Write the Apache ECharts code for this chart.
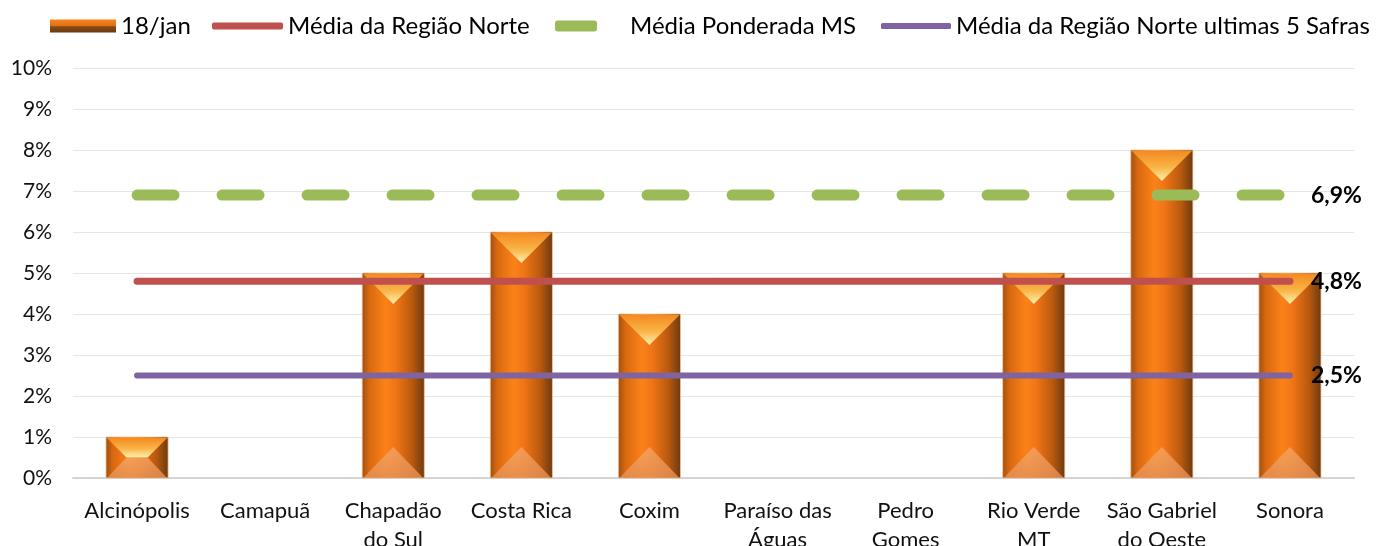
<!DOCTYPE html>
<html>
<head>
<meta charset="utf-8">
<script src="https://cdn.jsdelivr.net/npm/echarts@6/dist/echarts.min.js"></script>
<style>
  html, body { margin: 0; padding: 0; background: #fff; }
  #chart { width: 1381px; height: 546px; }
</style>
</head>
<body>
<div id="chart"></div>
<script>
// Municípios (rótulos do eixo X)
const categories = [
  'Alcinópolis', 'Camapuã', 'Chapadão\ndo Sul', 'Costa Rica', 'Coxim',
  'Paraíso das\nÁguas', 'Pedro\nGomes', 'Rio Verde\nMT', 'São Gabriel\ndo Oeste', 'Sonora'
];
// Percentual em 18/jan por município
const barValues = [1, 0, 5, 6, 4, 0, 0, 5, 8, 5];
// Médias de referência (%)
const mediaNorte = [4.8, 4.8, 4.8, 4.8, 4.8, 4.8, 4.8, 4.8, 4.8, 4.8];
const mediaPonderadaMS = [6.9, 6.9, 6.9, 6.9, 6.9, 6.9, 6.9, 6.9, 6.9, 6.9];
const mediaNorte5Safras = [2.5, 2.5, 2.5, 2.5, 2.5, 2.5, 2.5, 2.5, 2.5, 2.5];
// Eixo Y
const yMin = 0, yMax = 10, yStep = 1;

const FONT = 'Lato';
const G = echarts.graphic;

const fmtPct = v => String(v).replace('.', ',') + '%';

// Barra com chanfro: corpo com degradê lateral, triângulo superior claro e inferior pêssego
function renderBevelBar(params, api) {
  const v = api.value(1);
  if (!v) return null;
  const top = api.coord([api.value(0), v]);
  const base = api.coord([api.value(0), 0]);
  const w = api.size([1, 0])[0] * 0.485;
  const x0 = top[0] - w / 2, x1 = top[0] + w / 2;
  const yT = top[1], yB = base[1];
  const h = yB - yT;
  const d = Math.min(w / 2, h / 2);
  return {
    type: 'group',
    children: [
      {
        type: 'rect',
        shape: { x: x0, y: yT, width: w, height: h },
        style: {
          fill: new G.LinearGradient(0, 0, 1, 0, [
            { offset: 0, color: '#9a4f12' },
            { offset: 0.12, color: '#d9690f' },
            { offset: 0.38, color: '#fb8219' },
            { offset: 0.55, color: '#ee7416' },
            { offset: 0.8, color: '#b9590e' },
            { offset: 1, color: '#6a3a12' }
          ]),
          stroke: 'rgba(248,196,150,0.8)',
          lineWidth: 1
        }
      },
      {
        type: 'polygon',
        shape: { points: [[x0 + 1, yT + 1], [x1 - 1, yT + 1], [x1 - d, yT + d], [x0 + d, yT + d]] },
        style: {
          fill: new G.LinearGradient(0, 0, 0, 1, [
            { offset: 0, color: '#f48a20' },
            { offset: 0.55, color: '#f9b548' },
            { offset: 1, color: '#fff2b0' }
          ])
        }
      },
      {
        type: 'polygon',
        shape: { points: [[x0 + 1, yB], [x1 - 1, yB], [x1 - d, yB - d], [x0 + d, yB - d]] },
        style: {
          fill: new G.LinearGradient(0, 0, 0, 1, [
            { offset: 0, color: 'rgba(244,170,110,0.7)' },
            { offset: 1, color: 'rgba(230,145,85,0.8)' }
          ])
        }
      }
    ]
  };
}

function refLine(name, data, color, width, dashed) {
  return {
    name: name,
    type: 'line',
    data: data,
    symbol: 'none',
    z: 5,
    lineStyle: {
      color: color,
      width: width,
      cap: 'round',
      type: dashed ? [37, 48] : 'solid'
    },
    itemStyle: { color: color },
    emphasis: { disabled: true },
    endLabel: {
      show: true,
      distance: 21,
      formatter: p => fmtPct(p.value),
      fontFamily: FONT,
      fontWeight: 'bold',
      fontSize: 23,
      color: '#000'
    }
  };
}

const legendText = { fontFamily: FONT, fontSize: 24, color: '#000' };

const option = {
  animation: false,
  backgroundColor: '#fff',
  grid: { left: 73, right: 27, top: 68, bottom: 68, containLabel: false, outerBoundsMode: 'none' },
  legend: [
    {
      left: 45, top: 9, itemWidth: 66, itemHeight: 13, textStyle: legendText,
      data: [{
        name: '18/jan', icon: 'rect',
        itemStyle: {
          color: new G.LinearGradient(0, 0, 0, 1, [
            { offset: 0, color: '#f7841c' },
            { offset: 0.5, color: '#e06f14' },
            { offset: 0.55, color: '#8a4a14' },
            { offset: 1, color: '#6a3a12' }
          ])
        }
      }]
    },
    {
      left: 207, top: 9, itemWidth: 71, itemHeight: 7, textStyle: legendText,
      data: [{ name: 'Média da Região Norte', icon: 'roundRect' }]
    },
    {
      left: 550, top: 9, itemWidth: 42, itemHeight: 11,
      textStyle: Object.assign({ padding: [0, 0, 0, 28] }, legendText),
      data: [{ name: 'Média Ponderada MS', icon: 'roundRect' }]
    },
    {
      left: 876, top: 9, itemWidth: 70, itemHeight: 6, textStyle: legendText,
      data: [{ name: 'Média da Região Norte ultimas 5 Safras', icon: 'roundRect' }]
    }
  ],
  xAxis: {
    type: 'category',
    data: categories,
    boundaryGap: true,
    axisLine: { show: true, lineStyle: { color: '#d4d4d4', width: 2 } },
    axisTick: { show: false },
    axisLabel: {
      interval: 0,
      margin: 18,
      fontFamily: FONT,
      fontSize: 22,
      color: '#111',
      lineHeight: 29
    }
  },
  yAxis: {
    type: 'value',
    min: yMin,
    max: yMax,
    interval: yStep,
    axisLine: { show: false },
    axisTick: { show: false },
    splitLine: { lineStyle: { color: '#e6e6e6', width: 1 } },
    axisLabel: {
      margin: 21,
      fontFamily: FONT,
      fontSize: 21,
      color: '#111',
      formatter: v => v + '%'
    }
  },
  series: [
    {
      name: '18/jan',
      type: 'custom',
      renderItem: renderBevelBar,
      data: barValues.map((v, i) => [i, v]),
      encode: { x: 0, y: 1 },
      itemStyle: { color: '#e8761a' },
      z: 2
    },
    refLine('Média da Região Norte', mediaNorte, '#c0504d', 7, false),
    refLine('Média Ponderada MS', mediaPonderadaMS, '#9bbb59', 11, true),
    refLine('Média da Região Norte ultimas 5 Safras', mediaNorte5Safras, '#8064a2', 6, false)
  ]
};

const chart = echarts.init(document.getElementById('chart'), null, { renderer: 'canvas' });
chart.setOption(option);
</script>
</body>
</html>
